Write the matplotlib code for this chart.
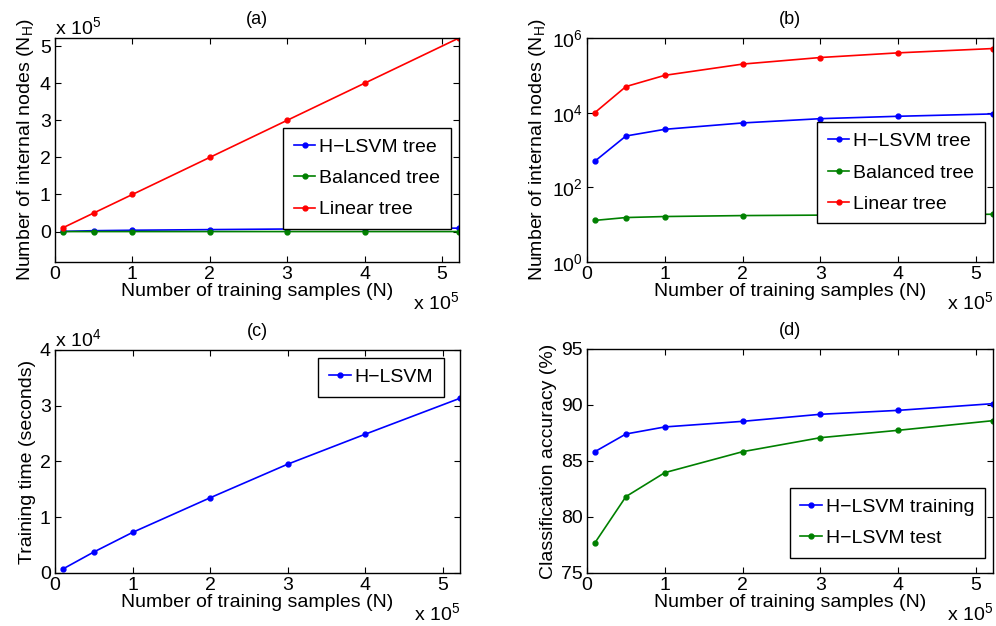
import matplotlib
matplotlib.use("Agg")
import matplotlib.pyplot as plt
from matplotlib.ticker import FuncFormatter, FixedLocator, NullLocator

plt.rcParams['font.family'] = ['Liberation Sans', 'DejaVu Sans']
plt.rcParams['mathtext.fontset'] = 'custom'
plt.rcParams['mathtext.rm'] = 'Liberation Sans'
plt.rcParams['mathtext.it'] = 'Liberation Sans:italic'
plt.rcParams['font.size'] = 13

# ---- data ----
n_samples = [1e4, 5e4, 1e5, 2e5, 3e5, 4e5, 5.22e5]
hlsvm_nodes = [500, 2370, 3580, 5300, 6900, 8000, 9250]
balanced_nodes = [13, 15.5, 16.5, 17.5, 18, 18.3, 19]
linear_nodes = [1e4, 5e4, 1e5, 2e5, 3e5, 4e5, 5.22e5]
train_time = [700, 3760, 7280, 13490, 19520, 24900, 31340]
acc_train = [85.83, 87.41, 88.04, 88.54, 89.17, 89.52, 90.12]
acc_test = [77.68, 81.82, 83.96, 85.83, 87.08, 87.74, 88.60]

BLUE = (0, 0, 1)
GREEN = (0, 0.5, 0)
RED = (1, 0, 0)

fig = plt.figure(figsize=(9.96, 6.26), dpi=100)
ax_a = fig.add_axes([0.0552, 0.5815, 0.4056, 0.3578])
ax_b = fig.add_axes([0.5894, 0.5815, 0.4076, 0.3578])
ax_c = fig.add_axes([0.0552, 0.0847, 0.4066, 0.3562])
ax_d = fig.add_axes([0.5894, 0.0847, 0.4076, 0.3578])

lkw = dict(marker='o', markersize=3.5, linewidth=1.2)

def style(ax):
    ax.tick_params(direction='in', top=True, right=True, length=4, width=0.8,
                   labelsize=14, pad=3)
    for s in ax.spines.values():
        s.set_linewidth(1.0)
    ax.set_xlim(0, n_samples[-1])
    ax.xaxis.set_major_locator(FixedLocator([0, 1e5, 2e5, 3e5, 4e5, 5e5]))
    ax.xaxis.set_major_formatter(FuncFormatter(lambda v, p: f"{v/1e5:g}"))
    ax.set_xlabel("Number of training samples (N)", fontsize=14, labelpad=0)
    ax.text(1.0, -0.178, r"x 10$^5$", transform=ax.transAxes, ha='right',
            va='center', fontsize=14)

def legend(ax, loc, anchor):
    leg = ax.legend(loc=loc, bbox_to_anchor=anchor, fancybox=False, framealpha=1,
                    edgecolor='black', fontsize=14, handlelength=1.1,
                    handletextpad=0.2, borderpad=0.55, labelspacing=0.7,
                    borderaxespad=0)
    leg.get_frame().set_linewidth(1.0)

# (a)
ax_a.plot(n_samples, hlsvm_nodes, color=BLUE, label='H\u2212LSVM tree', **lkw)
ax_a.plot(n_samples, balanced_nodes, color=GREEN, label='Balanced tree', **lkw)
ax_a.plot(n_samples, linear_nodes, color=RED, label='Linear tree', **lkw)
style(ax_a)
ax_a.set_ylim(-0.82e5, 5.22e5)
ax_a.yaxis.set_major_locator(FixedLocator([0, 1e5, 2e5, 3e5, 4e5, 5e5]))
ax_a.yaxis.set_major_formatter(FuncFormatter(lambda v, p: f"{v/1e5:g}"))
ax_a.set_ylabel(r"Number of internal nodes (N$_\mathregular{H}$)", fontsize=14, labelpad=3)
ax_a.text(0.0, 1.05, r"x 10$^5$", transform=ax_a.transAxes, ha='left', va='center', fontsize=14)
ax_a.set_title("(a)", fontsize=13, pad=10)
legend(ax_a, 'upper right', (0.98, 0.60))

# (b)
ax_b.semilogy(n_samples, hlsvm_nodes, color=BLUE, label='H\u2212LSVM tree', **lkw)
ax_b.semilogy(n_samples, balanced_nodes, color=GREEN, label='Balanced tree', **lkw)
ax_b.semilogy(n_samples, linear_nodes, color=RED, label='Linear tree', **lkw)
style(ax_b)
ax_b.set_ylim(1, 1e6)
ax_b.yaxis.set_major_locator(FixedLocator([1, 1e2, 1e4, 1e6]))
ax_b.yaxis.set_minor_locator(NullLocator())
ax_b.set_ylabel(r"Number of internal nodes (N$_\mathregular{H}$)", fontsize=14, labelpad=3)
ax_b.set_title("(b)", fontsize=13, pad=10)
legend(ax_b, 'upper right', (0.98, 0.625))

# (c)
ax_c.plot(n_samples, train_time, color=BLUE, label='H\u2212LSVM', **lkw)
style(ax_c)
ax_c.set_ylim(0, 4e4)
ax_c.yaxis.set_major_locator(FixedLocator([0, 1e4, 2e4, 3e4, 4e4]))
ax_c.yaxis.set_major_formatter(FuncFormatter(lambda v, p: f"{v/1e4:g}"))
ax_c.set_ylabel("Training time (seconds)", fontsize=14, labelpad=3)
ax_c.text(0.0, 1.05, r"x 10$^4$", transform=ax_c.transAxes, ha='left', va='center', fontsize=14)
ax_c.set_title("(c)", fontsize=13, pad=10)
legend(ax_c, 'upper right', (0.96, 0.965))

# (d)
ax_d.plot(n_samples, acc_train, color=BLUE, label='H\u2212LSVM training', **lkw)
ax_d.plot(n_samples, acc_test, color=GREEN, label='H\u2212LSVM test', **lkw)
style(ax_d)
ax_d.set_ylim(75, 95)
ax_d.yaxis.set_major_locator(FixedLocator([75, 80, 85, 90, 95]))
ax_d.set_ylabel("Classification accuracy (%)", fontsize=14, labelpad=3)
ax_d.set_title("(d)", fontsize=13, pad=10)
legend(ax_d, 'lower right', (0.98, 0.067))

fig.savefig("out.png", dpi=100)
